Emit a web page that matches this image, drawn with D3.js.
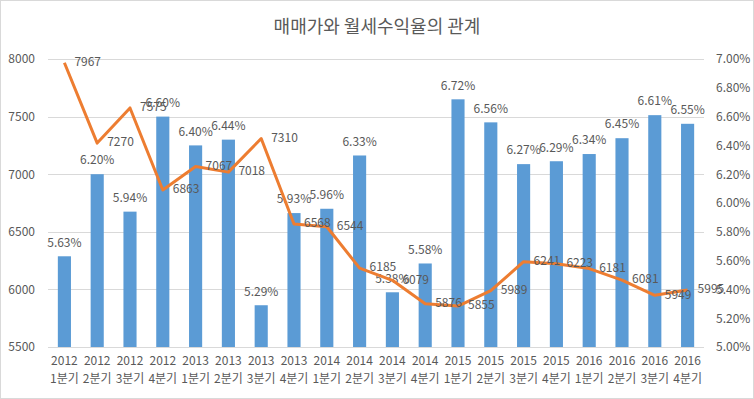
<!DOCTYPE html>
<html>
<head>
<meta charset="utf-8">
<script src="https://cdn.jsdelivr.net/npm/d3@7"></script>
<style>
  body { margin: 0; background: #fff; }
  text { font-family: "Noto Sans CJK KR", "Noto Sans", sans-serif; fill: #595959; }
</style>
</head>
<body>
<div id="chart"></div>
<script>
// quarters on the x-axis, price (line) on left axis, yield (bars) on right axis
var years = ["2012","2012","2012","2012","2013","2013","2013","2013","2014","2014",
             "2014","2014","2015","2015","2015","2015","2016","2016","2016","2016"]
var quarters = ["1분기","2분기","3분기","4분기","1분기","2분기","3분기","4분기","1분기","2분기",
                "3분기","4분기","1분기","2분기","3분기","4분기","1분기","2분기","3분기","4분기"]
var prices = [7967, 7270, 7575, 6863, 7067, 7018, 7310, 6568, 6544, 6185,
              6079, 5876, 5855, 5989, 6241, 6223, 6181, 6081, 5949, 5995]
var yields = [5.63, 6.20, 5.94, 6.60, 6.40, 6.44, 5.29, 5.93, 5.96, 6.33,
              5.38, 5.58, 6.72, 6.56, 6.27, 6.29, 6.34, 6.45, 6.61, 6.55]
var leftTicks = [5500, 6000, 6500, 7000, 7500, 8000]
var rightTicks = [5.0, 5.2, 5.4, 5.6, 5.8, 6.0, 6.2, 6.4, 6.6, 6.8, 7.0]

var W = 754, H = 399
var margin = {top: 59, bottom: 52, left: 48, right: 50}
var w = W - margin.left - margin.right
var h = H - margin.top - margin.bottom

var data = years.map(function (y, i) {
    return {key: i, year: y, q: quarters[i], price: prices[i], yld: yields[i]}
})

var root = d3.select("#chart").append("svg")
    .attr("width", W).attr("height", H)

root.append("rect")
    .attr("x", 0.5).attr("y", 0.5)
    .attr("width", W - 1).attr("height", H - 1)
    .attr("fill", "#fff").attr("stroke", "#d9d9d9")

root.append("text")
    .attr("x", W / 2).attr("y", 28)
    .attr("text-anchor", "middle")
    .attr("dominant-baseline", "middle")
    .style("font-size", "18px")
    .text("매매가와 월세수익율의 관계")

var svg = root.append("g")
    .attr("transform", "translate(" + margin.left + "," + margin.top + ")")

var x = d3.scaleBand()
    .domain(data.map(function (d) { return d.key }))
    .range([0, w])
    .paddingInner(0.6)
    .paddingOuter(0.3)

var yL = d3.scaleLinear().domain([5500, 8000]).range([h, 0])
var yR = d3.scaleLinear().domain([5.0, 7.0]).range([h, 0])

// gridlines
svg.append("g")
    .selectAll("line")
    .data(leftTicks)
    .enter()
    .append("line")
    .attr("x1", 0).attr("x2", w)
    .attr("y1", function (d) { return Math.round(yL(d)) + 0.5 })
    .attr("y2", function (d) { return Math.round(yL(d)) + 0.5 })
    .attr("stroke", "#d9d9d9")

// left axis
var axL = svg.append("g")
    .call(d3.axisLeft(yL).tickValues(leftTicks).tickSize(0).tickPadding(13)
        .tickFormat(function (d) { return String(d) }))
axL.select(".domain").remove()
axL.selectAll("text").style("font-size", "12px").attr("fill", "#595959")

// right axis
var axR = svg.append("g")
    .attr("transform", "translate(" + w + ",0)")
    .call(d3.axisRight(yR).tickValues(rightTicks).tickSize(0).tickPadding(12)
        .tickFormat(function (d) { return d.toFixed(2) + "%" }))
axR.select(".domain").remove()
axR.selectAll("text").style("font-size", "12px").attr("fill", "#595959")

// x labels (two rows)
var xl = svg.append("g").attr("transform", "translate(0," + h + ")")
xl.selectAll(".yr")
    .data(data)
    .enter()
    .append("text")
    .attr("x", function (d) { return x(d.key) + x.bandwidth() / 2 })
    .attr("y", 15)
    .attr("text-anchor", "middle")
    .attr("dominant-baseline", "middle")
    .style("font-size", "12px")
    .text(function (d) { return d.year })
xl.selectAll(".qt")
    .data(data)
    .enter()
    .append("text")
    .attr("x", function (d) { return x(d.key) + x.bandwidth() / 2 })
    .attr("y", 33)
    .attr("text-anchor", "middle")
    .attr("dominant-baseline", "middle")
    .style("font-size", "12px")
    .text(function (d) { return d.q })

// bars
svg.selectAll(".bar")
    .data(data)
    .enter()
    .append("rect")
    .attr("x", function (d) { return x(d.key) })
    .attr("y", function (d) { return yR(d.yld) })
    .attr("width", x.bandwidth())
    .attr("height", function (d) { return h - yR(d.yld) })
    .attr("fill", "#5b9bd5")

svg.selectAll(".barlabel")
    .data(data)
    .enter()
    .append("text")
    .attr("x", function (d) { return x(d.key) + x.bandwidth() / 2 })
    .attr("y", function (d) { return yR(d.yld) - 13 })
    .attr("text-anchor", "middle")
    .attr("dominant-baseline", "middle")
    .style("font-size", "12px")
    .text(function (d) { return d.yld.toFixed(2) + "%" })

// price line
var line = d3.line()
    .x(function (d) { return x(d.key) + x.bandwidth() / 2 })
    .y(function (d) { return yL(d.price) })

svg.append("path")
    .datum(data)
    .attr("fill", "none")
    .attr("stroke", "#ed7d31")
    .attr("stroke-width", 3)
    .attr("stroke-linejoin", "round")
    .attr("d", line)

svg.selectAll(".linelabel")
    .data(data)
    .enter()
    .append("text")
    .attr("x", function (d) { return x(d.key) + x.bandwidth() / 2 + 10 })
    .attr("y", function (d) { return yL(d.price) })
    .attr("dominant-baseline", "middle")
    .style("font-size", "12px")
    .text(function (d) { return d.price })
</script>
</body>
</html>
